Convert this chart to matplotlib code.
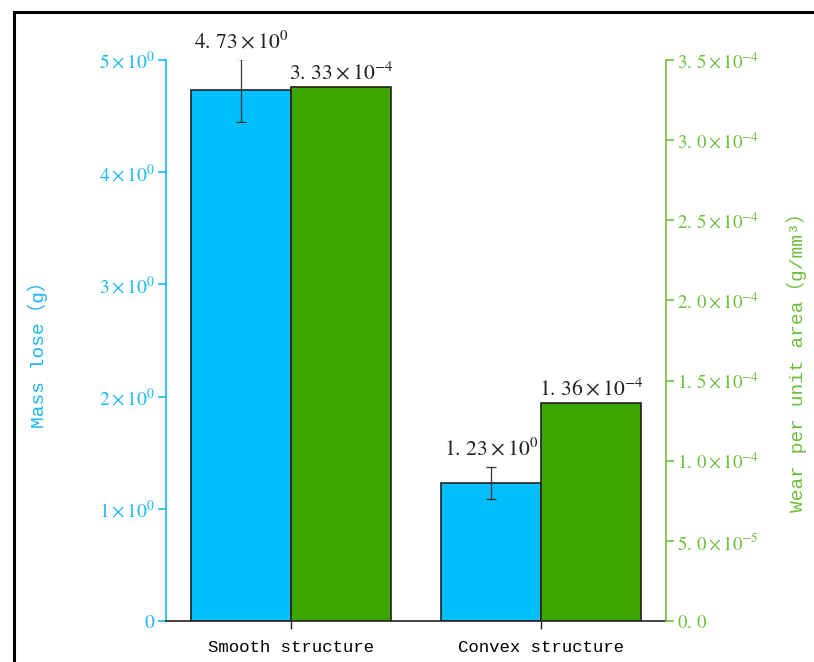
import matplotlib
matplotlib.use("Agg")
import matplotlib.pyplot as plt
from matplotlib.patches import Rectangle
import numpy as np

plt.rcParams['mathtext.fontset'] = 'stix'
plt.rcParams['font.family'] = ['Liberation Mono', 'Noto Sans CJK SC', 'DejaVu Sans']

categories = ["Smooth structure", "Convex structure"]
mass_lose = [4.73, 1.23]
mass_err = [0.28, 0.14]
wear_area = [3.33e-4, 1.36e-4]
mass_labels = [r"$4.\,73\times10^{0}$", r"$1.\,23\times10^{0}$"]
wear_labels = [r"$3.\,33\times10^{-4}$", r"$1.\,36\times10^{-4}$"]
left_ticks = [0, 1, 2, 3, 4, 5]
left_ticklabels = [r"$0$", r"$1\times10^{0}$", r"$2\times10^{0}$", r"$3\times10^{0}$",
                   r"$4\times10^{0}$", r"$5\times10^{0}$"]
right_ticks = [0, 0.5e-4, 1.0e-4, 1.5e-4, 2.0e-4, 2.5e-4, 3.0e-4, 3.5e-4]
right_ticklabels = [r"$0.\,0$", r"$5.\,0\times10^{-5}$", r"$1.\,0\times10^{-4}$",
                    r"$1.\,5\times10^{-4}$", r"$2.\,0\times10^{-4}$",
                    r"$2.\,5\times10^{-4}$", r"$3.\,0\times10^{-4}$",
                    r"$3.\,5\times10^{-4}$"]

blue = '#00bfff'
green = '#3ca500'
blue_axis = '#1ab6f0'
green_axis = '#6cbf3a'

fig = plt.figure(figsize=(8.14, 6.62), dpi=100)
ax = fig.add_axes([166/814, 1-621/662, 500/814, 561/662])
ax2 = ax.twinx()

x = np.arange(len(categories))
w = 0.4
ax.bar(x - w/2, mass_lose, w, color=blue, edgecolor='#222222', linewidth=1.2, zorder=2)
ax.errorbar(x - w/2, mass_lose, yerr=mass_err, fmt='none', ecolor='#333333',
            elinewidth=0.9, capsize=3.5, capthick=0.9, zorder=3)
ax2.bar(x + w/2, wear_area, w, color=green, edgecolor='#222222', linewidth=1.2, zorder=2)

for xi, v, e, s in zip(x - w/2, mass_lose, mass_err, mass_labels):
    ax.text(xi, min(v + e, 5.0) + 0.06, s, ha='center', va='bottom', fontsize=15.5, color='#222222')
for xi, v, s in zip(x + w/2, wear_area, wear_labels):
    ax2.text(xi, v + 0.015e-4, s, ha='center', va='bottom', fontsize=15.5, color='#222222')

ax.set_xlim(-0.5, 1.5)
ax.set_ylim(0, 5)
ax2.set_ylim(0, 3.5e-4)

ax.set_xticks(x)
ax.set_xticklabels(categories, fontsize=12.5)
ax.set_yticks(left_ticks)
ax.set_yticklabels(left_ticklabels, fontsize=14)
ax2.set_yticks(right_ticks)
ax2.set_yticklabels(right_ticklabels, fontsize=13.5)

ax.tick_params(axis='x', direction='out', length=6, width=1, color='#222222', pad=8)
ax.tick_params(axis='y', direction='out', length=6, width=1.2, colors=blue_axis, pad=2)
ax2.tick_params(axis='y', direction='out', length=6, width=1.2, colors=green_axis, pad=2)

for a in (ax, ax2):
    a.spines['top'].set_visible(False)
ax.spines['right'].set_visible(False)
ax2.spines['left'].set_visible(False)
ax2.spines['bottom'].set_visible(False)
ax.spines['left'].set_color(blue_axis)
ax.spines['left'].set_linewidth(1.2)
ax2.spines['right'].set_color(green_axis)
ax2.spines['right'].set_linewidth(1.2)
ax.spines['bottom'].set_color('#222222')
ax.spines['bottom'].set_linewidth(1.2)

ax.set_ylabel("Mass lose（g）", color=blue_axis, fontsize=14)
ax.yaxis.set_label_coords(-0.236, 0.483)
ax2.set_ylabel("Wear per unit area（g/mm³）", color=green_axis, fontsize=14)
ax2.yaxis.set_label_coords(1.24, 0.47)

# outer frame around the figure
fig.patches.append(Rectangle((14/814, -0.5), 2.0, 0.5 + 1 - 12/662, transform=fig.transFigure,
                             fill=False, edgecolor='black', linewidth=2.2, zorder=10))

fig.savefig("out.png", dpi=100, facecolor='white')
